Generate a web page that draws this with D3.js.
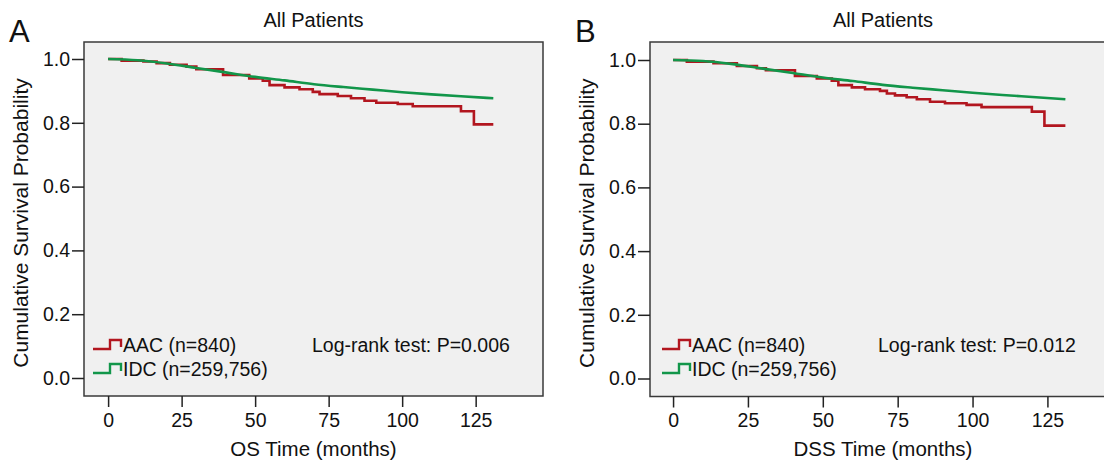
<!DOCTYPE html>
<html>
<head>
<meta charset="utf-8">
<script src="https://cdn.jsdelivr.net/npm/d3@7"></script>
<style>
  body { margin: 0; background: #fff; }
  svg text { font-family: "Liberation Sans", Arial, sans-serif; fill: #111; }
</style>
</head>
<body>
<svg id="km" width="1104" height="462"></svg>
<script>
// tick labels
var xTicks = [0, 25, 50, 75, 100, 125];
var yTicks = [0, 0.2, 0.4, 0.6, 0.8, 1.0];

// OS (panel A)
var aacOsTime = [0, 4.6, 12, 16.5, 21, 26.7, 30, 39.1, 48, 52.6, 54.9, 60, 65.1, 69.6, 71.9, 78.1, 82.6, 87.2, 91.2, 98.5, 103.6, 120, 124.4, 131];
var aacOsSurv = [1.0, 0.995, 0.992, 0.987, 0.982, 0.976, 0.968, 0.950, 0.939, 0.932, 0.918, 0.911, 0.905, 0.897, 0.890, 0.884, 0.877, 0.869, 0.863, 0.859, 0.852, 0.836, 0.795, 0.795];
var idcOsTime = [0, 10, 20, 30, 40, 50, 60, 70, 80, 90, 100, 110, 120, 131];
var idcOsSurv = [1.0, 0.996, 0.986, 0.972, 0.958, 0.944, 0.933, 0.921, 0.912, 0.904, 0.896, 0.889, 0.883, 0.877];

// DSS (panel B)
var aacDssTime = [0, 4.6, 13.5, 21.3, 28, 31, 40.7, 48, 53, 55.2, 59.7, 64.1, 69.1, 71.4, 74.1, 78, 81.4, 85.8, 90.8, 98, 103, 119.8, 124, 131];
var aacDssSurv = [1.0, 0.995, 0.990, 0.981, 0.974, 0.968, 0.950, 0.942, 0.935, 0.921, 0.914, 0.908, 0.903, 0.895, 0.889, 0.883, 0.877, 0.869, 0.864, 0.859, 0.852, 0.838, 0.794, 0.794];
var idcDssTime = [0, 10, 20, 30, 40, 50, 60, 70, 80, 90, 100, 110, 120, 131];
var idcDssSurv = [1.0, 0.997, 0.987, 0.973, 0.959, 0.945, 0.934, 0.922, 0.913, 0.905, 0.897, 0.890, 0.884, 0.877];

var groupNames = ["AAC (n=840)", "IDC (n=259,756)"];
var groupColors = ["#b2161f", "#12964a"];

var panels = [
    {
        letter: "A", title: "All Patients", xLabel: "OS Time (months)", pText: "Log-rank test: P=0.006",
        box: { x0: 84, x1: 543, y0: 42, y1: 396 },
        xDomain: [-8.2, 147.9], yRange: [378, 59],
        series: [[aacOsTime, aacOsSurv], [idcOsTime, idcOsSurv]],
        legendX: 93, pX: 312
    },
    {
        letter: "B", title: "All Patients", xLabel: "DSS Time (months)", pText: "Log-rank test: P=0.012",
        box: { x0: 650, x1: 1116, y0: 42, y1: 396.5 },
        xDomain: [-7.7, 147.9], yRange: [378.5, 60],
        series: [[aacDssTime, aacDssSurv], [idcDssTime, idcDssSurv]],
        legendX: 662, pX: 878
    }
];

var svg = d3.select("#km");

panels.forEach(function (p) {
    var x = d3.scaleLinear().domain(p.xDomain).range([p.box.x0, p.box.x1]);
    var y = d3.scaleLinear().domain([0, 1]).range(p.yRange);
    var g = svg.append("g");

    g.append("rect")
        .attr("x", p.box.x0)
        .attr("y", p.box.y0)
        .attr("width", p.box.x1 - p.box.x0)
        .attr("height", p.box.y1 - p.box.y0)
        .style("fill", "#f0f0f0")
        .style("stroke", "#3a3a3a")
        .style("stroke-width", "1.5px");

    // x axis
    var xa = g.append("g")
        .attr("transform", "translate(0," + p.box.y1 + ")")
        .call(d3.axisBottom(x).tickValues(xTicks).tickSize(11).tickSizeOuter(0).tickPadding(6));
    xa.select(".domain").remove();
    xa.selectAll("line").style("stroke", "#222").style("stroke-width", "1.5px");
    xa.selectAll("text").style("font-size", "19.5px").style("fill", "#111");

    // y axis
    var ya = g.append("g")
        .attr("transform", "translate(" + p.box.x0 + ",0)")
        .call(d3.axisLeft(y).tickValues(yTicks).tickFormat(d3.format(".1f")).tickSize(12).tickSizeOuter(0).tickPadding(2));
    ya.select(".domain").remove();
    ya.selectAll("line").style("stroke", "#222").style("stroke-width", "1.5px");
    ya.selectAll("text").style("font-size", "19.5px").style("fill", "#111");

    var cx = (p.box.x0 + p.box.x1) / 2;
    g.append("text")
        .attr("x", cx).attr("y", 27)
        .attr("text-anchor", "middle")
        .style("font-size", "20px")
        .text(p.title);

    g.append("text")
        .attr("x", p.box.x0 - 75).attr("y", 42)
        .style("font-size", "31px")
        .text(p.letter);

    g.append("text")
        .attr("x", cx).attr("y", 456)
        .attr("text-anchor", "middle")
        .style("font-size", "20.5px")
        .text(p.xLabel);

    g.append("text")
        .attr("transform", "translate(" + (p.box.x0 - 56) + "," + ((p.box.y0 + p.box.y1) / 2 + 4) + ") rotate(-90)")
        .attr("text-anchor", "middle")
        .style("font-size", "21px")
        .text("Cumulative Survival Probability");

    // survival curves
    var step = d3.line()
        .x(function (d) { return x(d[0]); })
        .y(function (d) { return y(d[1]); })
        .curve(d3.curveStepAfter);
    var smooth = d3.line()
        .x(function (d) { return x(d[0]); })
        .y(function (d) { return y(d[1]); })
        .curve(d3.curveMonotoneX);

    p.series.forEach(function (s, i) {
        var pts = s[0].map(function (t, k) { return [t, s[1][k]]; });
        g.append("path")
            .datum(pts)
            .attr("d", i === 0 ? step : smooth)
            .style("fill", "none")
            .style("stroke", groupColors[i])
            .style("stroke-width", "2.6px");
    });

    // legend
    groupNames.forEach(function (name, i) {
        var ly = 344 + i * 24;
        g.append("path")
            .attr("d", "M" + p.legendX + "," + (ly + 5) + "h17v-9h11v7")
            .style("fill", "none")
            .style("stroke", groupColors[i])
            .style("stroke-width", "2.4px");
        g.append("text")
            .attr("x", p.legendX + 30).attr("y", ly + 8)
            .style("font-size", "19.5px")
            .text(name);
    });

    g.append("text")
        .attr("x", p.pX).attr("y", 352)
        .style("font-size", "19.5px")
        .text(p.pText);
});
</script>
</body>
</html>
